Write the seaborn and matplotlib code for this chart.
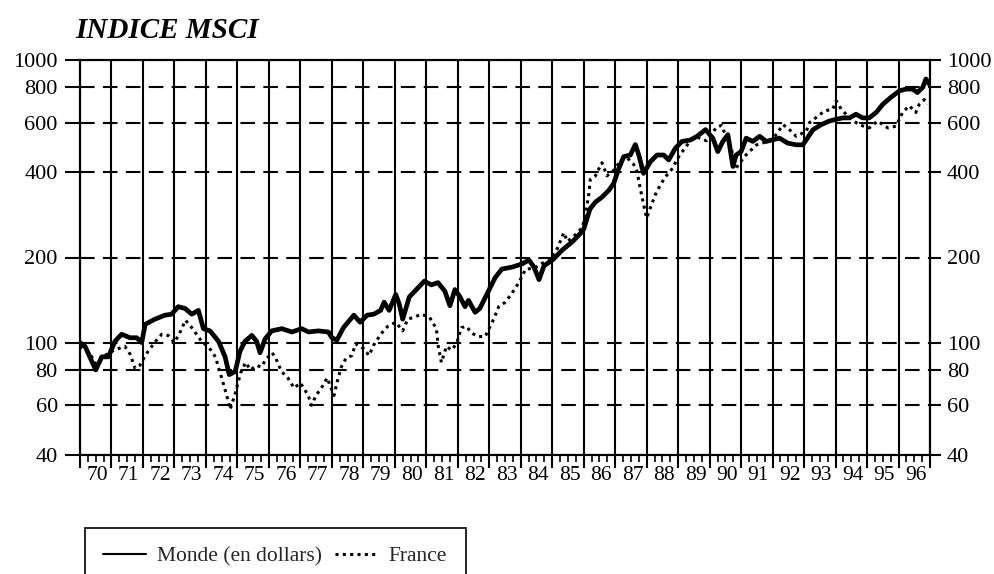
import matplotlib
matplotlib.use('Agg')
import matplotlib.pyplot as plt
from matplotlib.ticker import NullLocator
import pandas as pd
import seaborn as sns

# MSCI index (base 100 = 1970)
monde_t = [1970.0, 1970.16, 1970.5, 1970.69, 1970.9, 1971.11, 1971.32, 1971.59, 1971.8, 1971.96,
           1972.07, 1972.38, 1972.7, 1972.91, 1973.12, 1973.34, 1973.55, 1973.76, 1973.92, 1974.13,
           1974.4, 1974.61, 1974.74, 1974.93, 1975.08, 1975.24, 1975.46, 1975.61, 1975.72, 1975.88,
           1976.09, 1976.41, 1976.73, 1977.04, 1977.26, 1977.57, 1977.89, 1978.0, 1978.16, 1978.37,
           1978.7, 1978.9, 1979.12, 1979.33, 1979.55, 1979.66, 1979.82, 1980.03, 1980.14, 1980.25,
           1980.46, 1980.73, 1980.94, 1981.16, 1981.37, 1981.59, 1981.75, 1981.91, 1982.07, 1982.23,
           1982.34, 1982.55, 1982.7, 1982.92, 1983.19, 1983.4, 1983.73, 1984.05, 1984.26, 1984.42,
           1984.58, 1984.74, 1985.01, 1985.33, 1985.65, 1985.92, 1986.0, 1986.2, 1986.37, 1986.58,
           1986.8, 1986.95, 1987.11, 1987.27, 1987.48, 1987.64, 1987.75, 1987.9, 1988.12, 1988.33,
           1988.54, 1988.7, 1988.91, 1989.12, 1989.39, 1989.6, 1989.87, 1990.1, 1990.26, 1990.42,
           1990.58, 1990.74, 1990.84, 1991.0, 1991.16, 1991.37, 1991.59, 1991.8, 1992.0, 1992.22,
           1992.48, 1992.75, 1992.96, 1993.07, 1993.28, 1993.54, 1993.8, 1994.0, 1994.23, 1994.44,
           1994.65, 1994.86, 1995.07, 1995.29, 1995.5, 1995.76, 1996.03, 1996.24, 1996.45, 1996.6,
           1996.77, 1996.87, 1996.96]
monde_v = [100, 97, 80, 89, 89, 101, 107, 104, 104, 100,
           116, 121, 125, 126, 134, 132, 126, 130, 112, 110,
           101, 89, 77, 79, 93, 101, 106, 101, 92, 103,
           110, 112, 109, 112, 109, 110, 109, 104, 102, 113,
           125, 118, 125, 126, 130, 139, 130, 148, 137, 121,
           145, 156, 165, 160, 163, 152, 135, 154, 145, 134,
           141, 128, 132, 148, 170, 182, 185, 190, 196, 185,
           167, 187, 196, 213, 228, 245, 252, 297, 314, 327,
           346, 365, 412, 455, 461, 502, 461, 397, 437, 461,
           461, 443, 487, 515, 521, 537, 567, 529, 474, 515,
           544, 420, 461, 474, 529, 515, 537, 515, 522, 529,
           508, 501, 501, 522, 566, 590, 608, 616, 624, 624,
           643, 624, 624, 652, 697, 738, 778, 789, 789, 767,
           800, 857, 825]

france_t = [1970.0, 1970.3, 1970.5, 1970.7, 1970.9, 1971.2, 1971.42, 1971.59, 1971.75, 1971.9,
            1972.1, 1972.4, 1972.6, 1972.8, 1973.0, 1973.2, 1973.35, 1973.55, 1973.7, 1973.86,
            1974.1, 1974.3, 1974.5, 1974.66, 1974.77, 1974.93, 1975.1, 1975.26, 1975.42, 1975.6,
            1975.76, 1975.9, 1976.1, 1976.2, 1976.4, 1976.6, 1976.8, 1977.0, 1977.25, 1977.35,
            1977.5, 1977.7, 1977.85, 1978.07, 1978.16, 1978.3, 1978.45, 1978.64, 1978.75, 1979.02,
            1979.18, 1979.33, 1979.55, 1979.77, 1980.03, 1980.25, 1980.41, 1980.62, 1980.84, 1981.1,
            1981.32, 1981.38, 1981.48, 1981.64, 1981.8, 1981.96, 1982.12, 1982.28, 1982.44, 1982.66,
            1982.87, 1983.14, 1983.3, 1983.51, 1983.73, 1983.94, 1984.16, 1984.42, 1984.69, 1984.95,
            1985.16, 1985.37, 1985.48, 1985.69, 1985.95, 1986.06, 1986.16, 1986.21, 1986.37, 1986.58,
            1986.74, 1987.0, 1987.16, 1987.37, 1987.58, 1987.69, 1987.79, 1987.9, 1988.0, 1988.16,
            1988.32, 1988.58, 1988.8, 1989.06, 1989.2, 1989.38, 1989.6, 1989.9, 1990.22, 1990.38,
            1990.53, 1990.69, 1990.8, 1990.95, 1991.1, 1991.48, 1992.0, 1992.33, 1992.48, 1992.75,
            1993.07, 1993.17, 1993.65, 1993.91, 1994.02, 1994.18, 1994.44, 1994.75, 1995.07, 1995.34,
            1995.66, 1995.92, 1996.13, 1996.34, 1996.55, 1996.66, 1996.82, 1996.92]
france_v = [97, 92, 84, 88, 92, 95, 97, 91, 81, 83,
            91, 101, 107, 106, 100, 110, 120, 113, 107, 101,
            96, 89, 75, 65, 58, 66, 78, 85, 80, 83,
            82, 87, 92, 89, 79, 75, 69, 72, 65, 60,
            65, 70, 75, 65, 72, 82, 88, 90, 99, 95,
            90, 98, 107, 114, 118, 110, 121, 123, 126, 123,
            112, 97, 85, 97, 94, 99, 113, 114, 108, 105,
            105, 121, 134, 139, 150, 163, 182, 183, 191, 196,
            215, 245, 228, 238, 255, 284, 334, 378, 389, 433,
            389, 411, 440, 452, 428, 405, 354, 309, 276, 309,
            343, 384, 411, 464, 484, 518, 533, 518, 578, 587,
            533, 490, 410, 430, 455, 500, 522, 590, 575, 537,
            559, 600, 660, 670, 717, 670, 624, 590, 575, 608,
            575, 583, 652, 689, 652, 697, 724, 697]

y_ticks = [40, 60, 80, 100, 200, 400, 600, 800, 1000]
years = list(range(1970, 1997))

sns.set_theme(style='ticks')
plt.rcParams['font.family'] = ['Liberation Serif', 'DejaVu Serif']

fig = plt.figure(figsize=(9.94, 5.74), dpi=100)
ax = fig.add_axes([80 / 994, 119 / 574, 850 / 994, 395 / 574])

df_m = pd.DataFrame({'annee': monde_t, 'indice': monde_v})
df_f = pd.DataFrame({'annee': france_t, 'indice': france_v})

sns.lineplot(data=df_m, x='annee', y='indice', color='black', lw=3.4, ax=ax,
             label='Monde (en dollars)')
sns.lineplot(data=df_f, x='annee', y='indice', color='black', lw=2.2,
             linestyle=(0, (1, 1.4)), ax=ax, label='France')

ax.set_yscale('log')
ax.set_ylim(40, 1000)
ax.set_xlim(1970, 1997)
ax.set_xlabel('')
ax.set_ylabel('')

ax.set_yticks(y_ticks, labels=[str(v) for v in y_ticks])
ax.yaxis.set_minor_locator(NullLocator())
ax.set_xticks(list(range(1970, 1998)), labels=[])
ax.set_xticks([y + q / 4 for y in years for q in (1, 2, 3)], minor=True)

ax.tick_params(axis='x', which='major', length=9, width=1.5, color='black')
ax.tick_params(axis='x', which='minor', length=5, width=1.2, color='black')
ax.tick_params(axis='y', which='major', length=11, width=1.5, pad=5,
               labelsize=16, color='black', labelcolor='black')

ax.grid(True, axis='x', which='major', color='black', lw=1.5, ls='-')
ax.grid(True, axis='y', which='major', color='black', lw=1.5, ls=(0, (7, 4)))
for s in ax.spines.values():
    s.set_color('black')
    s.set_linewidth(1.5)

for y in years:
    ax.text(y + 0.55, -0.028, f'{y % 100:02d}', transform=ax.get_xaxis_transform(),
            ha='center', va='top', fontsize=15.5, color='black')

ax2 = ax.twinx()
ax2.set_yscale('log')
ax2.set_ylim(40, 1000)
ax2.set_yticks(y_ticks, labels=[str(v) for v in y_ticks])
ax2.yaxis.set_minor_locator(NullLocator())
ax2.tick_params(axis='y', length=8, width=1.5, pad=4, labelsize=16,
                color='black', labelcolor='black')
ax2.grid(False)
for s in ax2.spines.values():
    s.set_color('black')
    s.set_linewidth(1.5)

# legend box at the bottom, running off the lower edge as in the scan
h, l = ax.get_legend_handles_labels()
ax.get_legend().remove()
h[0] = plt.Line2D([], [], color='black', lw=1.5)
leg = fig.legend(h, l, loc='upper left', bbox_to_anchor=(85 / 994, 1 - 528 / 574),
                 borderaxespad=0, ncol=2, frameon=True, fancybox=False, edgecolor='black',
                 framealpha=1, fontsize=15.5, handlelength=2.0, columnspacing=0.6,
                 handletextpad=0.5, borderpad=0.85)
leg.get_frame().set_linewidth(1.2)

fig.text(75 / 994, 1 - 30 / 574, 'INDICE MSCI', fontsize=21, fontweight='bold',
         fontstyle='italic', ha='left', va='center', color='black')

fig.savefig('out.png', dpi=100)
